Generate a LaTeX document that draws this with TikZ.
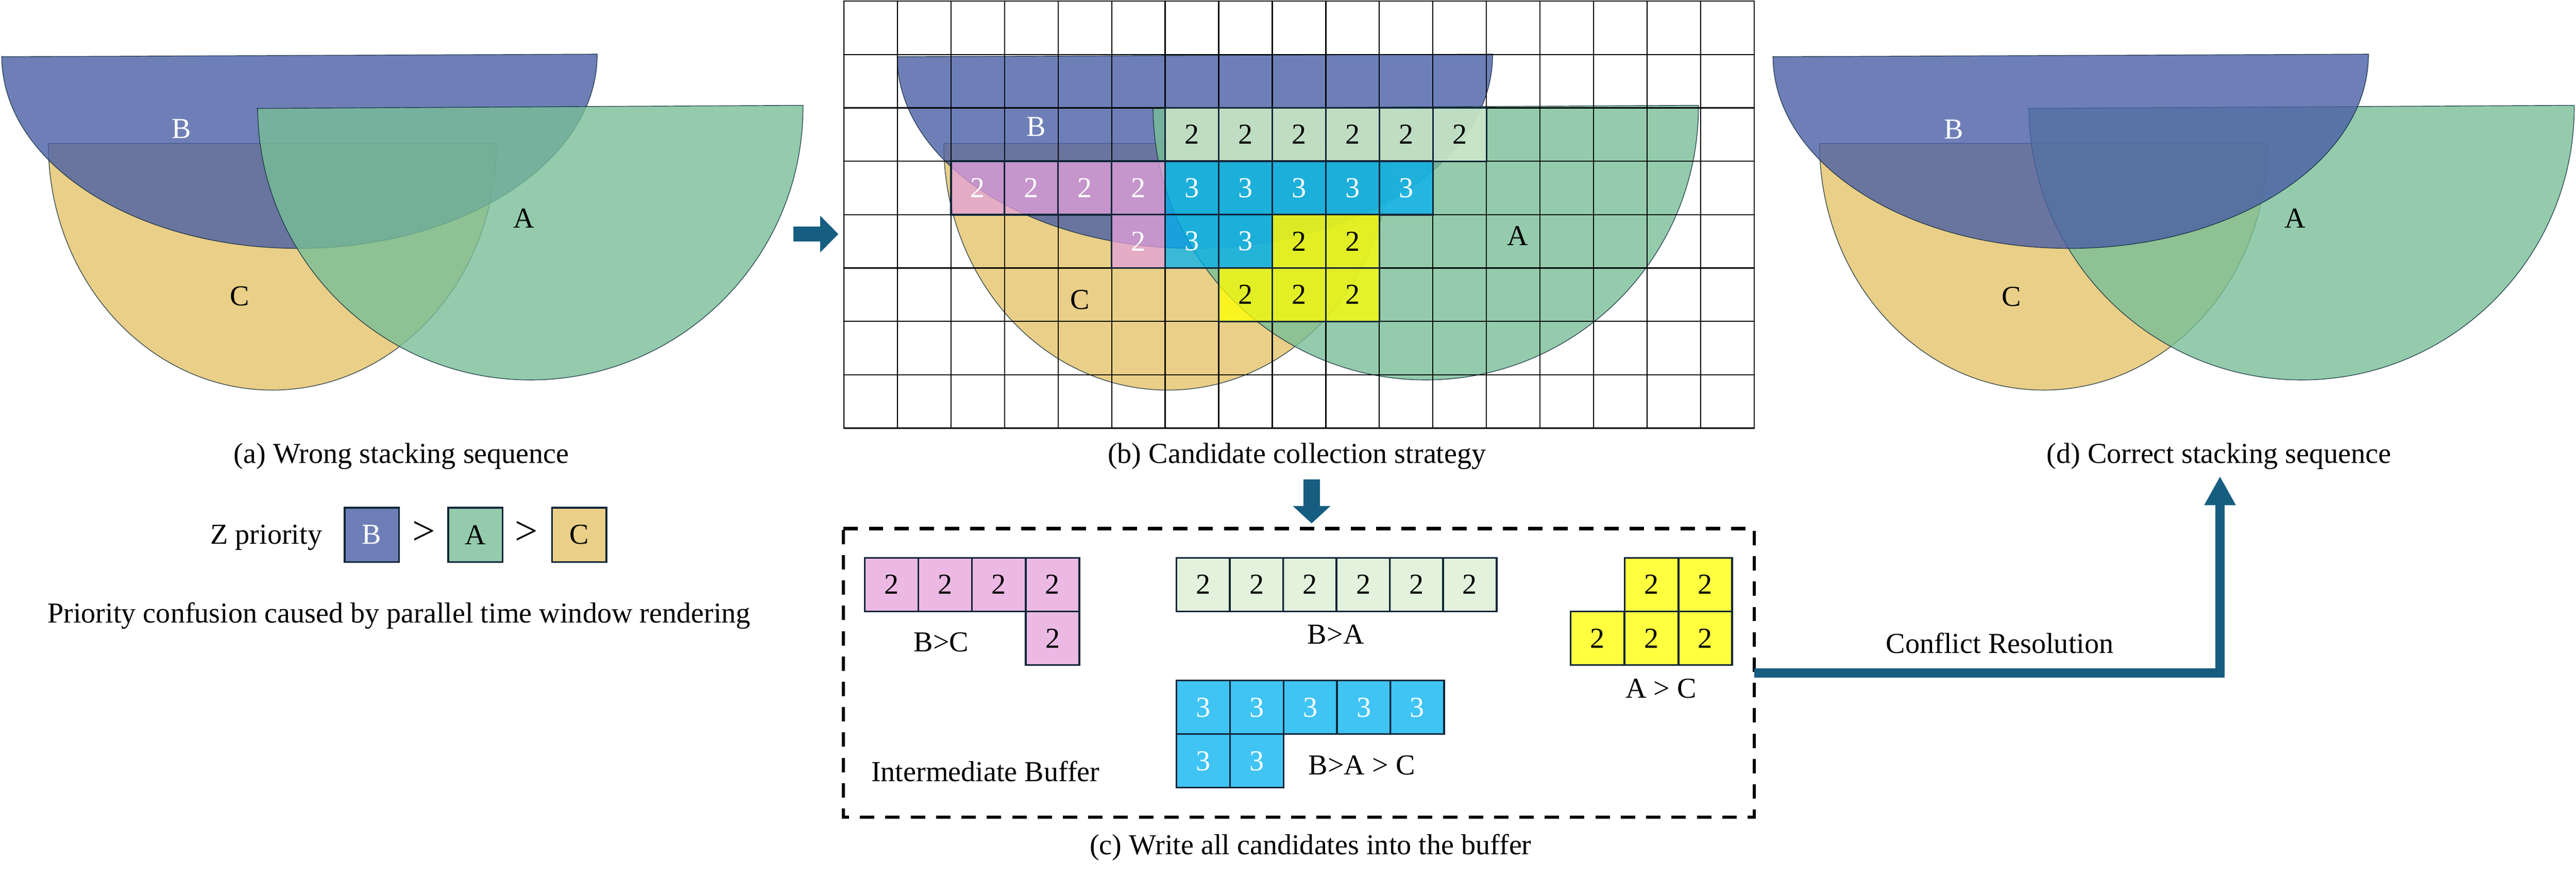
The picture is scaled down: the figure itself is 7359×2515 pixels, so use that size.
\documentclass[tikz,border=0pt]{standalone}
\usepackage{fontspec}
\setmainfont{Liberation Serif}
\usetikzlibrary{arrows.meta}
\definecolor{Bc}{RGB}{74,95,165}
\definecolor{Ac}{RGB}{120,190,151}
\definecolor{Cc}{RGB}{227,195,105}
\definecolor{Bs}{RGB}{110,127,183}
\definecolor{As}{RGB}{147,203,172}
\definecolor{Cs}{RGB}{233,207,135}
\definecolor{edgec}{RGB}{14,40,58}
\definecolor{cellb}{RGB}{16,38,56}
\definecolor{pk}{RGB}{228,161,219}
\definecolor{gr}{RGB}{216,237,208}
\definecolor{bl}{RGB}{0,176,240}
\definecolor{ye}{RGB}{255,255,0}
\definecolor{arr}{RGB}{22,94,128}
\newcommand\shpA{\filldraw[shapeA, rotate around={0.33:(1515,305.5)}] (736,305.5) -- (2294,305.5) arc[start angle=0,end angle=180,x radius=779,y radius=780.5] -- cycle;}
\newcommand\shpB{\filldraw[shapeB, rotate around={0.25:(855.5,158.5)}] (5,158.5) -- (1706,158.5) arc[start angle=0,end angle=180,x radius=850.5,y radius=551.5] -- cycle;}
\newcommand\shpC{\filldraw[shapeC] (138,410) -- (1418,410) arc[start angle=0,end angle=180,x radius=640,y radius=705] -- cycle;}
\begin{document}
\begin{tikzpicture}[x=0.01cm,y=-0.01cm,
  txt/.style={font=\fontsize{23.5pt}{28pt}\selectfont, inner sep=0pt},
  shapeA/.style={fill=Ac, draw=edgec, fill opacity=0.8, draw opacity=0.8, line width=0.6pt},
  shapeB/.style={fill=Bc, draw=edgec, fill opacity=0.8, draw opacity=0.8, line width=0.6pt},
  shapeC/.style={fill=Cc, draw=edgec, fill opacity=0.8, draw opacity=0.8, line width=0.6pt},
  gridln/.style={draw=black, line width=1pt, line cap=rect},
  cellst/.style={draw=cellb, line width=1.35pt, minimum size=1.53cm, inner sep=0pt, fill opacity=0.75, text opacity=1, font=\fontsize{23.5pt}{28pt}\selectfont},
  zbox/.style={draw=cellb, line width=1.4pt, minimum size=1.55cm, inner sep=0pt, font=\fontsize{23.5pt}{28pt}\selectfont},
  gtsign/.style={font=\fontsize{33pt}{36pt}\selectfont, inner sep=0pt},
  bufbox/.style={minimum width=26cm, minimum height=8.25cm, outer sep=0pt},
  bufline/.style={draw=black, line width=2.6pt, dash pattern=on 11.7pt off 8.9pt},
  conn/.style={draw=arr, line width=7.8pt, line join=miter, -{Triangle[length=23.6pt,width=23.9pt]}}
]
\useasboundingbox (0,0) rectangle (7359,2515);

% ---------- (a) wrong stacking ----------
\begin{scope}
  \shpC \shpB \shpA
\end{scope}
\node[txt, text=white, anchor=base] (aB) at (519,395) {B};
\node[txt, anchor=base] (aA) at (1497,651) {A};
\node[txt, anchor=base] (aC) at (685,873) {C};
\node[txt, anchor=base] (capa) at (1147,1324) {(a) Wrong stacking sequence};
\node[txt, anchor=base] (zp) at (760.5,1555) {Z priority};
\node[zbox, fill=Bs, text=white] (zB) at (1062,1528.5) {B};
\node[gtsign] (gt1) at (1210.5,1523.5) {>};
\node[zbox, fill=As] (zA) at (1358,1528.5) {A};
\node[gtsign] (gt2) at (1504,1523.5) {>};
\node[zbox, fill=Cs] (zC) at (1654.5,1528.5) {C};
\node[txt, anchor=base] (conf) at (1140,1780) {Priority confusion caused by parallel time window rendering};

% arrow (a) -> (b)
\coordinate (ra1) at (2266,669);
\coordinate (ra2) at (2395,669);
\draw[draw=arr, line width=12.2pt, -{Triangle[length=14.8pt,width=29pt]}] (ra1) -- (ra2);

% ---------- (b) candidate collection ----------
\begin{scope}[shift={(2558,0)}]
  \shpC \shpB \shpA
\end{scope}
\foreach \i in {0,...,17} \draw[gridln] ({2411+152.94*\i},3) -- ({2411+152.94*\i},1224);
\foreach \j in {0,...,8} \draw[gridln] (2411,{3+152.6*\j}) -- (5010,{3+152.6*\j});
\node[txt, text=white, anchor=base] (bB) at (2960,390) {B};
\node[txt, anchor=base] (bA) at (4335,702) {A};
\node[txt, anchor=base] (bC) at (3085,884) {C};
\foreach \c/\r/\f/\t/\n in {6/2/gr/black/2,7/2/gr/black/2,8/2/gr/black/2,9/2/gr/black/2,10/2/gr/black/2,11/2/gr/black/2,
  2/3/pk/white/2,3/3/pk/white/2,4/3/pk/white/2,5/3/pk/white/2,
  6/3/bl/white/3,7/3/bl/white/3,8/3/bl/white/3,9/3/bl/white/3,10/3/bl/white/3,
  5/4/pk/white/2,6/4/bl/white/3,7/4/bl/white/3,8/4/ye/black/2,9/4/ye/black/2,
  7/5/ye/black/2,8/5/ye/black/2,9/5/ye/black/2}
  \node[cellst, fill=\f, text=\t] (g-\c-\r) at ({2411+152.94*(\c+0.5)},{3+152.6*(\r+0.5)}) {\n};
\node[txt, anchor=base] (capb) at (3705,1324) {(b) Candidate collection strategy};

% arrow (b) -> (c)
\coordinate (da1) at (3747,1370);
\coordinate (da2) at (3747,1496);
\draw[draw=arr, line width=13.3pt, -{Triangle[length=14.2pt,width=29.9pt]}] (da1) -- (da2);

% ---------- (c) buffer ----------
\node[bufbox] (buf) at (3710.5,1923.5) {};
\draw[bufline] (buf.north west) -- (buf.north east) -- (buf.south east) -- (buf.south west) -- cycle;
\foreach \k in {0,...,3}
  \node[cellst, fill=pk] (p-\k) at ({2547+153.3*\k},1671) {2};
\node[cellst, fill=pk] (p-4) at (3007,1824.5) {2};
\node[txt, anchor=base] (lBC) at (2689,1862) {B>C};
\foreach \k in {0,...,5}
  \node[cellst, fill=gr] (q-\k) at ({3437.5+152.3*\k},1671) {2};
\node[txt, anchor=base] (lBA) at (3816,1840) {B>A};
\node[cellst, fill=ye] (y-1) at (4717.5,1671) {2};
\node[cellst, fill=ye] (y-2) at (4871.5,1671) {2};
\node[cellst, fill=ye] (y-3) at (4563.5,1824.5) {2};
\node[cellst, fill=ye] (y-4) at (4717.5,1824.5) {2};
\node[cellst, fill=ye] (y-5) at (4871.5,1824.5) {2};
\node[txt, anchor=base] (lAC) at (4745,1995) {A > C};
\foreach \k in {0,...,4}
  \node[cellst, fill=bl, text=white] (s-\k) at ({3437.5+152.8*\k},2022) {3};
\node[cellst, fill=bl, text=white] (s-5) at (3437.5,2175) {3};
\node[cellst, fill=bl, text=white] (s-6) at (3590.3,2175) {3};
\node[txt, anchor=base] (lBAC) at (3890,2215) {B>A > C};
\node[txt, anchor=base] (lIB) at (2815,2234) {Intermediate Buffer};
\node[txt, anchor=base] (capc) at (3744,2443) {(c) Write all candidates into the buffer};

% ---------- (d) correct stacking ----------
\begin{scope}[shift={(5060,0)}]
  \shpC \shpA \shpB
\end{scope}
\node[txt, text=white, anchor=base] (dB) at (5581,396) {B};
\node[txt, anchor=base] (dA) at (6557,652) {A};
\node[txt, anchor=base] (dC) at (5746,875) {C};
\node[txt, anchor=base] (capd) at (6339,1324) {(d) Correct stacking sequence};

% conflict resolution connector
\coordinate (dtip) at (6342,1361);
\draw[conn] (buf.east) -| (dtip);
\node[txt, anchor=base] (lCR) at (5713,1867) {Conflict Resolution};
\end{tikzpicture}
\end{document}
